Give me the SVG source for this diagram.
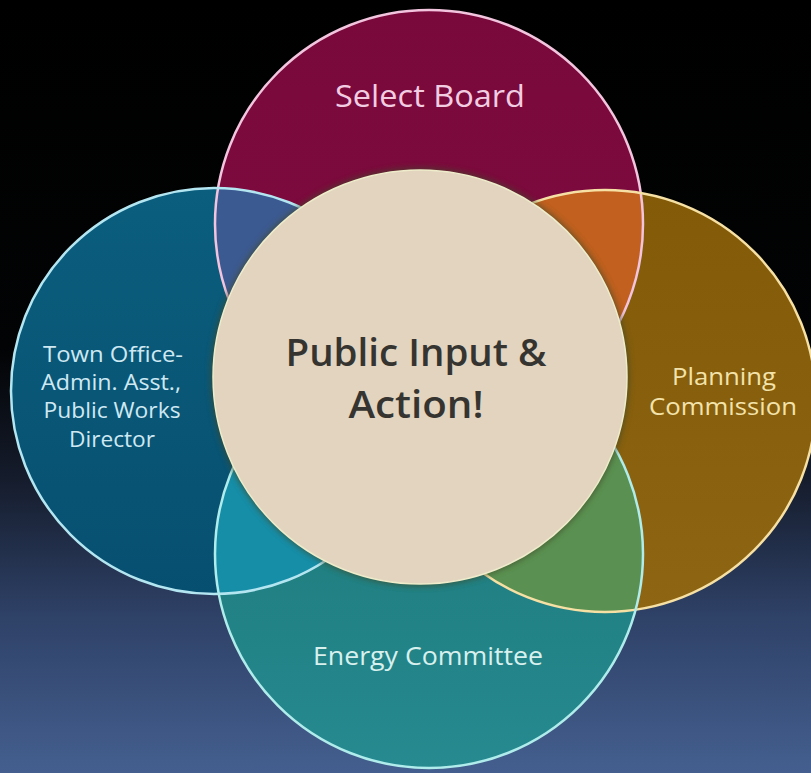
<svg xmlns="http://www.w3.org/2000/svg" width="811" height="773" viewBox="0 0 811 773">
  <defs>
    <linearGradient id="bg" x1="0" y1="0" x2="0" y2="1">
      <stop offset="0" stop-color="#000000"/>
      <stop offset="0.45" stop-color="#020304"/>
      <stop offset="0.62" stop-color="#151c2c"/>
      <stop offset="0.8" stop-color="#2f4268"/>
      <stop offset="1" stop-color="#445f8f"/>
    </linearGradient>
    <linearGradient id="gTop" x1="0" y1="0" x2="0" y2="1">
      <stop offset="0" stop-color="#7a093b"/>
      <stop offset="1" stop-color="#7e0b40"/>
    </linearGradient>
    <linearGradient id="gLeft" x1="0" y1="0" x2="0" y2="1">
      <stop offset="0" stop-color="#0b5e7e"/>
      <stop offset="1" stop-color="#074f70"/>
    </linearGradient>
    <linearGradient id="gRight" x1="0" y1="0" x2="0" y2="1">
      <stop offset="0" stop-color="#825a08"/>
      <stop offset="1" stop-color="#8e6512"/>
    </linearGradient>
    <linearGradient id="gBottom" x1="0" y1="0" x2="0" y2="1">
      <stop offset="0" stop-color="#1a7472"/>
      <stop offset="1" stop-color="#268a90"/>
    </linearGradient>
    <clipPath id="cTop"><circle cx="429" cy="224" r="214"/></clipPath>
    <clipPath id="cBottom"><circle cx="429" cy="554" r="214"/></clipPath>
    <filter id="soft" x="-10%" y="-10%" width="120%" height="120%">
      <feGaussianBlur stdDeviation="3"/>
    </filter>
    <style>
      .lbl { font-family: "Open Sans", Lato, "Liberation Sans", sans-serif; text-anchor: middle; }
      .ring { fill: none; stroke-width: 2.5; }
      .town { font-size: 21px; fill: #cfe9f3; }
      .plan { font-size: 23px; fill: #f3e3ab; }
      .core { font-size: 38px; fill: #363430; font-weight: 600; }
    </style>
  </defs>

  <rect width="811" height="773" fill="url(#bg)"/>

  <!-- outer circles -->
  <g id="select-board">
    <circle cx="429" cy="224" r="214" fill="url(#gTop)"/>
  </g>
  <g id="town-office">
    <circle cx="214" cy="391" r="203" fill="url(#gLeft)"/>
  </g>
  <g id="planning-commission">
    <circle cx="605" cy="401" r="211" fill="url(#gRight)"/>
  </g>
  <g id="energy-committee">
    <circle cx="429" cy="554" r="214" fill="url(#gBottom)"/>
  </g>

  <!-- overlaps between neighbouring circles -->
  <g id="overlaps">
    <circle cx="214" cy="391" r="203" fill="#3c5a92" clip-path="url(#cTop)"/>
    <circle cx="605" cy="401" r="211" fill="#c1601f" clip-path="url(#cTop)"/>
    <circle cx="214" cy="391" r="203" fill="#168ea8" clip-path="url(#cBottom)"/>
    <circle cx="605" cy="401" r="211" fill="#5a9152" clip-path="url(#cBottom)"/>
  </g>

  <!-- outlines -->
  <g id="rings">
    <circle class="ring" cx="429" cy="224" r="214" stroke="#f2c4de"/>
    <circle class="ring" cx="214" cy="391" r="203" stroke="#b4e6f2"/>
    <circle class="ring" cx="605" cy="401" r="211" stroke="#f6e0a4"/>
    <circle class="ring" cx="429" cy="554" r="214" stroke="#b0ecec"/>
  </g>

  <!-- central circle -->
  <g id="public-input">
    <circle cx="420" cy="377" r="209" fill="#3f4a26" opacity="0.7" filter="url(#soft)"/>
    <circle cx="420" cy="377" r="207" fill="#e2d4bf" stroke="#eeeccb" stroke-width="1.5"/>
    <text class="lbl core" x="416" y="366" textLength="261" lengthAdjust="spacingAndGlyphs">Public Input &amp;</text>
    <text class="lbl core" x="416" y="418" textLength="135" lengthAdjust="spacingAndGlyphs">Action!</text>
  </g>

  <!-- labels -->
  <g id="labels">
    <text class="lbl" x="430" y="107" font-size="31" fill="#f2cde2" textLength="190" lengthAdjust="spacingAndGlyphs">Select Board</text>
    <text class="lbl town" x="113" y="362" textLength="140" lengthAdjust="spacingAndGlyphs">Town Office-</text>
    <text class="lbl town" x="111" y="390" textLength="140" lengthAdjust="spacingAndGlyphs">Admin. Asst.,</text>
    <text class="lbl town" x="112" y="418" textLength="137" lengthAdjust="spacingAndGlyphs">Public Works</text>
    <text class="lbl town" x="112" y="447" textLength="86" lengthAdjust="spacingAndGlyphs">Director</text>
    <text class="lbl plan" x="724" y="385" textLength="104" lengthAdjust="spacingAndGlyphs">Planning</text>
    <text class="lbl plan" x="723" y="415" textLength="148" lengthAdjust="spacingAndGlyphs">Commission</text>
    <text class="lbl" x="428" y="665" font-size="25" fill="#d8f0ee" textLength="230" lengthAdjust="spacingAndGlyphs">Energy Committee</text>
  </g>
</svg>
